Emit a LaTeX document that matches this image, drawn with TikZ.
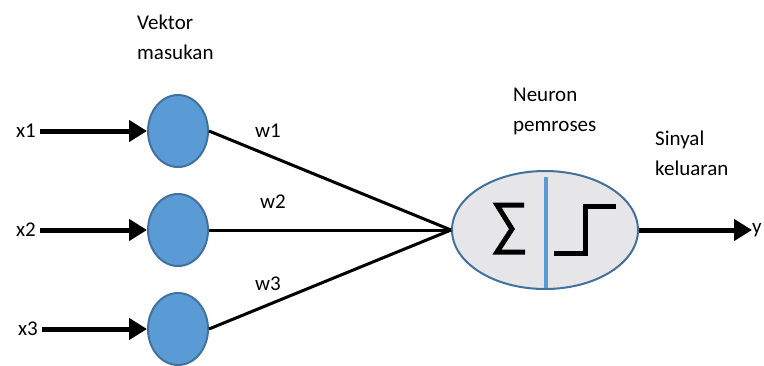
\documentclass[tikz,border=0pt]{standalone}
\usepackage{fontspec}
\setmainfont{Carlito}
\usetikzlibrary{arrows.meta,shapes.geometric}
\definecolor{inblue}{HTML}{5B9BD5}
\definecolor{edgeblue}{HTML}{41719C}
\definecolor{cellgray}{HTML}{E6E6E8}
\begin{document}
\begin{tikzpicture}[x=1pt,y=-1pt,
  lbl/.style={font=\fontsize{21}{30}\selectfont, inner sep=0pt},
  headtext/.style={lbl, align=left, anchor=west},
  inputcell/.style={ellipse, draw=edgeblue, line width=2pt, fill=inblue,
    minimum width=60pt, minimum height=72pt, inner sep=0pt},
  inarrow/.style={line width=5pt, -{Triangle[length=18pt,width=21pt]}},
  weight/.style={line width=3pt}]
\useasboundingbox (0,0) rectangle (764,365);

% input cells
\node[inputcell] (c1) at (178,131) {};
\node[inputcell] (c2) at (178,230) {};
\node[inputcell] (c3) at (178,329) {};

% input signals
\node[lbl, anchor=east] (x1) at (36,131) {x1};
\node[lbl, anchor=east] (x2) at (36,230) {x2};
\node[lbl, anchor=east] (x3) at (38,329) {x3};

\draw[inarrow] (x1.east) ++(4,0) coordinate (a1) (a1) -- (c1.west);
\draw[inarrow] (x2.east) ++(4,0) coordinate (a2) (a2) -- (c2.west);
\draw[inarrow] (x3.east) ++(4,0) coordinate (a3) (a3) -- (c3.west);

% processing neuron
\node[ellipse, draw=edgeblue, line width=2pt, fill=cellgray,
  minimum width=186pt, minimum height=118pt, inner sep=0pt] (n) at (545,230) {};
\draw[inblue, line width=3.5pt] (546,177) -- (546,288);

% summation and step function
\draw[line width=5pt, line join=miter] (524,205) -- (497,205) -- (512,229) -- (497,252) -- (525,252);
\draw[line width=5pt, line join=miter] (554,253) -- (585,253) -- (585,206) -- (616,206);

% weighted connections
\draw[weight] (c1.east) -- (n.west);
\draw[weight] (c2.east) -- (n.west);
\draw[weight] (c3.east) -- (n.west);

\node[lbl] (w1) at (268,131) {w1};
\node[lbl] (w2) at (273,202) {w2};
\node[lbl] (w3) at (268,284) {w3};

% output
\node[lbl, anchor=west] (y) at (752,230) {y};
\draw[inarrow] (n.east) -- (y.west);

% captions
\node[headtext] (t1) at (137,37) {Vektor\\masukan};
\node[headtext] (t2) at (513,111) {Neuron\\pemroses};
\node[headtext] (t3) at (655,153) {Sinyal\\keluaran};
\end{tikzpicture}
\end{document}
